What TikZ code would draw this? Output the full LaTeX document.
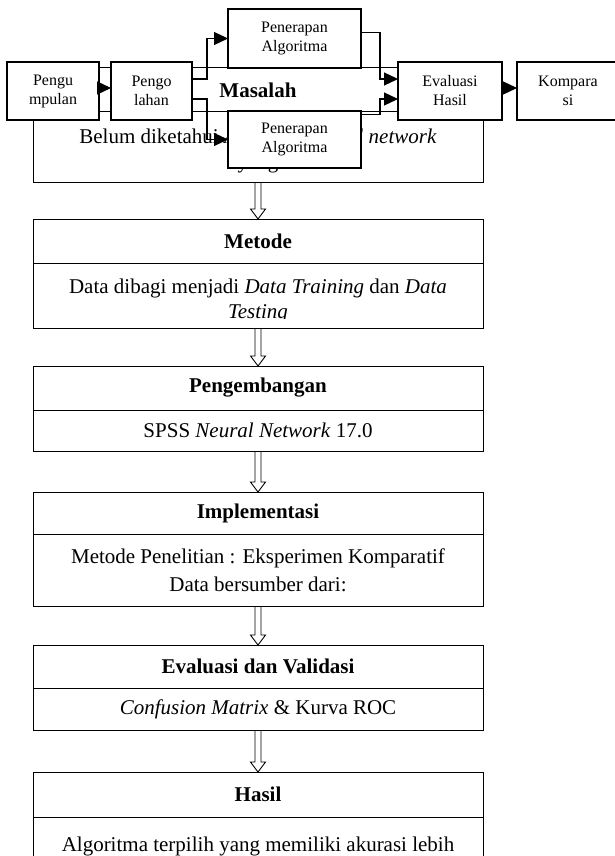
\documentclass[tikz,border=0pt]{standalone}
\usepackage{fontspec}
\setmainfont{Liberation Serif}
\usetikzlibrary{positioning,arrows.meta}

\begin{document}
\begin{tikzpicture}[x=1pt, y=-1pt,
  isi/.style={font=\fontsize{21}{25}\selectfont, align=center},
  kotak/.style={isi, draw, line width=1pt, fill=white, outer sep=0pt, inner sep=2pt, minimum width=450pt},
  judul/.style={kotak, font=\fontsize{21}{25}\selectfont\bfseries, minimum height=44pt},
  kecil/.style={draw, line width=1.2pt, fill=white, outer sep=0pt, align=center, font=\fontsize{16}{19}\selectfont, minimum height=58pt},
  panah/.style={line width=1.2pt, -{Triangle[length=14pt,width=13pt]}},
  blok/.style={line width=0.9pt, line join=miter, to path={([xshift=-3pt]\tikztostart.south) -- ([xshift=-3pt,yshift=10pt]\tikztotarget.north) -- ([xshift=-7.5pt,yshift=10pt]\tikztotarget.north) -- (\tikztotarget.north) -- ([xshift=7.5pt,yshift=10pt]\tikztotarget.north) -- ([xshift=3pt,yshift=10pt]\tikztotarget.north) -- ([xshift=3pt]\tikztostart.south)}}]
\useasboundingbox (0,0) rectangle (615,856);
\clip (0,0) rectangle (615,856);

% kotak utama
\node [judul, anchor=north] (masalah) at (258,68) {Masalah};
\node [kotak, minimum height=70pt, below=0pt of masalah] (masalahisi) {\rule{0pt}{22pt}Belum diketahui \textit{Artificial Neural network}\\ yang};

\node [judul, anchor=north] (metode) at (258,219) {Metode};
\node [kotak, minimum height=65pt, below=0pt of metode] (metodeisi) {};
\begin{scope}
\clip (40,265) rectangle (476,318.5);
\node [isi] (metodeteks) at (258,300.5) {Data dibagi menjadi \textit{Data Training} dan \textit{Data}\\ \textit{Testing}};
\end{scope}

\node [judul, anchor=north] (kembang) at (258,366) {Pengembangan};
\node [kotak, minimum height=41pt, below=0pt of kembang] (kembangisi) {SPSS \textit{Neural Network} 17.0};

\node [judul, anchor=north, minimum height=42pt] (implementasi) at (258,492) {Implementasi};
\node [kotak, minimum height=72pt, below=0pt of implementasi] (implementasiisi) {Metode Penelitian : Eksperimen Komparatif\\[3pt] Data bersumber dari:};

\node [judul, anchor=north, minimum height=43pt] (validasi) at (258,645) {Evaluasi dan Validasi};
\node [kotak, minimum height=42pt, below=0pt of validasi] (validasiisi) {\textit{Confusion Matrix} \& Kurva ROC};

\node [judul, anchor=north, minimum height=45pt] (hasil) at (258,772) {Hasil};
\node [kotak, minimum height=60pt, below=0pt of hasil] (hasilisi) {};
\node [isi, anchor=base] (hasilteks) at (258,851) {Algoritma terpilih yang memiliki akurasi lebih};

% panah blok
\draw [blok] (masalahisi) to (metode);
\draw [blok] (metodeisi) to (kembang);
\draw [blok] (kembangisi) to (implementasi);
\draw [blok] (implementasiisi) to (validasi);
\draw [blok] (validasiisi) to (hasil);

% alur kecil di atas
\node [kecil, minimum width=92pt] (pengumpulan) at (53,91) {Pengu\\mpulan};
\node [kecil, minimum width=81pt] (pengolahan) at (151.5,91) {Pengo\\lahan};
\node [kecil, minimum width=133pt, minimum height=59pt] (terapatas) at (294.5,38.5) {Penerapan\\Algoritma};
\node [kecil, minimum width=133pt, minimum height=57pt] (terapbawah) at (294.5,139.5) {Penerapan\\Algoritma};
\node [kecil, minimum width=104pt] (evalhasil) at (450,91) {Evaluasi\\Hasil};
\node [kecil, minimum width=102pt] (komparasi) at (568,91) {Kompara\\si};

\draw [panah] ([yshift=3pt]pengumpulan.east) -- ([yshift=3pt]pengolahan.west);
\draw [panah] ([yshift=12pt]pengolahan.east) -- ++(15,0) |- (terapatas.west);
\draw [panah] ([yshift=-8pt]pengolahan.east) -- ++(15,0) |- (terapbawah.west);
\draw [panah] ([yshift=6pt]terapatas.east) -- ++(19,0) |- ([yshift=12pt]evalhasil.west);
\draw [panah] ([yshift=25pt]terapbawah.east) -- ++(19,0) |- ([yshift=-8pt]evalhasil.west);
\draw [panah] ([yshift=3pt]evalhasil.east) -- ([yshift=3pt]komparasi.west);
\end{tikzpicture}
\end{document}
